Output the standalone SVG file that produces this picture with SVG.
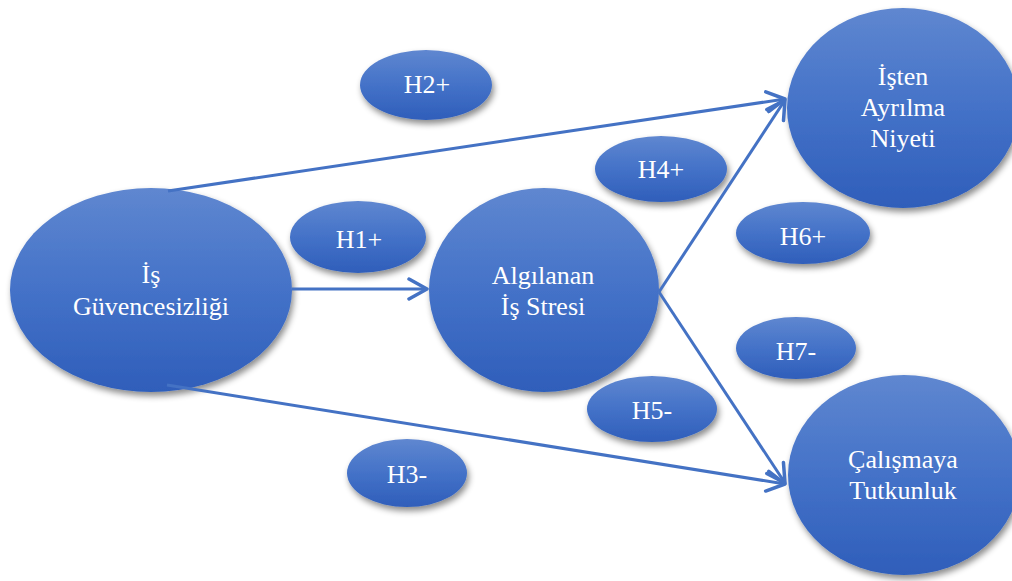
<svg xmlns="http://www.w3.org/2000/svg" width="1012" height="581" viewBox="0 0 1012 581">
<style>
.node{fill:url(#g);filter:url(#sh)}
.t{font-family:'Liberation Serif','Times New Roman',serif;font-size:26px;fill:#ffffff;text-anchor:middle}
.c{stroke:#4472c4;stroke-width:3;fill:none}
</style>
<defs>
<linearGradient id="g" x1="0" y1="0" x2="0" y2="1">
<stop offset="0" stop-color="#5f87d0"/>
<stop offset="0.5" stop-color="#4472c8"/>
<stop offset="1" stop-color="#2f5eba"/>
</linearGradient>
<filter id="sh" x="-20%" y="-20%" width="140%" height="150%">
<feDropShadow dx="2" dy="4" stdDeviation="3" flood-color="#000" flood-opacity="0.45"/>
</filter>
<marker id="ar" markerUnits="userSpaceOnUse" viewBox="0 0 24 24" markerWidth="24" markerHeight="24" refX="21" refY="12" orient="auto">
<path d="M3,2 L21,12 L3,22" fill="none" stroke="#4472c4" stroke-width="3.5" stroke-linecap="round" stroke-linejoin="round"/>
</marker>
</defs>
<g id="is-guvencesizligi">
<ellipse class="node" cx="151" cy="290" rx="141" ry="102"/>
<text class="t" x="151" y="283">İş</text>
<text class="t" x="151" y="315">Güvencesizliği</text>
</g>
<g id="algilanan-is-stresi">
<ellipse class="node" cx="544" cy="290" rx="115" ry="102"/>
<text class="t" x="543" y="284">Algılanan</text>
<text class="t" x="543" y="315">İş Stresi</text>
</g>
<g id="isten-ayrilma-niyeti">
<ellipse class="node" cx="903" cy="108" rx="116" ry="100"/>
<text class="t" x="903" y="85">İşten</text>
<text class="t" x="903" y="116">Ayrılma</text>
<text class="t" x="903" y="147">Niyeti</text>
</g>
<g id="calismaya-tutkunluk">
<ellipse class="node" cx="904" cy="475" rx="116" ry="100"/>
<text class="t" x="903" y="468">Çalışmaya</text>
<text class="t" x="903" y="499">Tutkunluk</text>
</g>
<g id="h1">
<ellipse class="node" cx="358" cy="237" rx="68" ry="36"/>
<text class="t" x="359" y="248">H1+</text>
</g>
<g id="h2">
<ellipse class="node" cx="426" cy="85" rx="66" ry="35"/>
<text class="t" x="427" y="93">H2+</text>
</g>
<g id="h3">
<ellipse class="node" cx="407" cy="473" rx="60" ry="34"/>
<text class="t" x="407" y="483">H3-</text>
</g>
<g id="h4">
<ellipse class="node" cx="661" cy="169" rx="66" ry="33"/>
<text class="t" x="661" y="178">H4+</text>
</g>
<g id="h5">
<ellipse class="node" cx="652" cy="409" rx="65" ry="33"/>
<text class="t" x="652" y="419">H5-</text>
</g>
<g id="h6">
<ellipse class="node" cx="803" cy="233" rx="67" ry="31"/>
<text class="t" x="803" y="245">H6+</text>
</g>
<g id="h7">
<ellipse class="node" cx="796" cy="348" rx="60" ry="31"/>
<text class="t" x="796" y="360">H7-</text>
</g>
<g id="connectors">
<line class="c" x1="168" y1="191" x2="785" y2="99" marker-end="url(#ar)"/>
<line class="c" x1="292" y1="289" x2="427" y2="289" marker-end="url(#ar)"/>
<line class="c" x1="167" y1="385" x2="785" y2="484" marker-end="url(#ar)"/>
<line class="c" x1="659" y1="292" x2="785" y2="100" marker-end="url(#ar)"/>
<line class="c" x1="659" y1="292" x2="785" y2="483" marker-end="url(#ar)"/>
</g>
</svg>
